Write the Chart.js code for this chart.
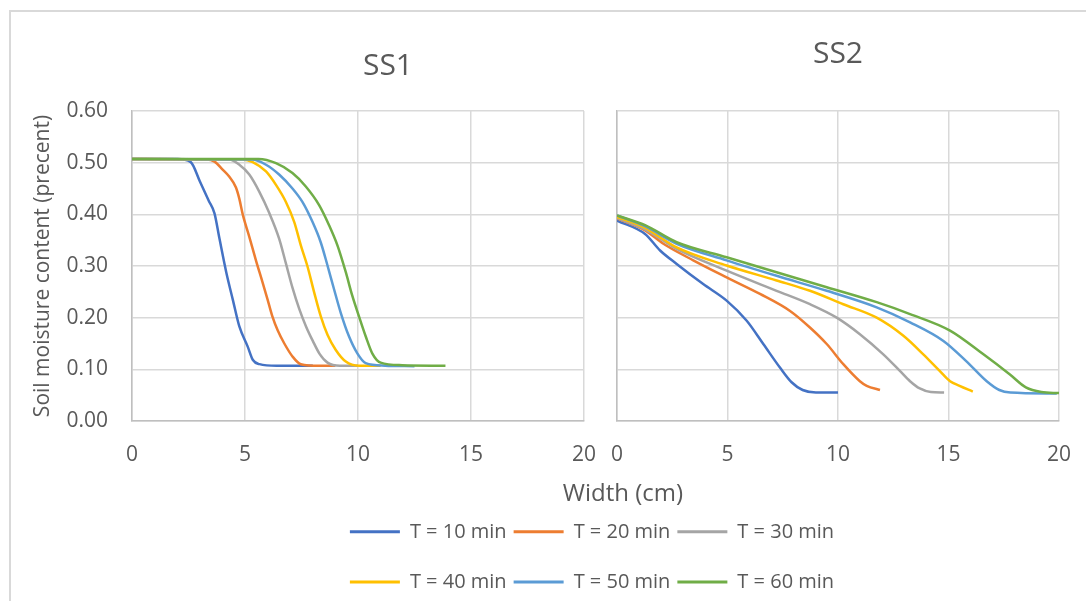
<!DOCTYPE html>
<html>
<head>
<meta charset="utf-8">
<script src="https://cdn.jsdelivr.net/npm/chart.js@4.4.0/dist/chart.umd.min.js"></script>
<style>
  html, body { margin: 0; padding: 0; background: #fff; }
  #page { position: relative; width: 1086px; height: 601px; overflow: hidden; background: #fff; }
  #frame { position: absolute; left: 9px; top: 10px; right: -4px; bottom: -4px;
           border-left: 2px solid #d9d9d9; border-top: 2px solid #d9d9d9; }
  canvas { position: absolute; }
  #ss1 { left: 0; top: 0; }
  #ss2 { left: 600px; top: 0; }
  #legendTop { left: 312px; top: 470px; }
  #legendBottom { left: 312px; top: 565px; }
</style>
</head>
<body>
<div id="page">
  <div id="frame"></div>
  <canvas id="ss1" width="776" height="480"></canvas>
  <canvas id="ss2" width="486" height="480"></canvas>
  <canvas id="legendTop" width="560" height="95"></canvas>
  <canvas id="legendBottom" width="560" height="90"></canvas>
</div>
<script>
// series names and colours
const seriesNames = ['T = 10 min', 'T = 20 min', 'T = 30 min', 'T = 40 min', 'T = 50 min', 'T = 60 min'];
const seriesColors = ['#4472C4', '#ED7D31', '#A5A5A5', '#FFC000', '#5B9BD5', '#70AD47'];
const xTicks = [0, 5, 10, 15, 20];
const yTicks = [0, 0.1, 0.2, 0.3, 0.4, 0.5, 0.6];

// SS1 : [width (cm), moisture]
const ss1T10 = [[0,0.507],[2.0,0.507],[2.6,0.501],[3.0,0.464],[3.4,0.426],[3.65,0.402],[3.87,0.353],[4.17,0.288],[4.46,0.235],[4.75,0.183],[5.12,0.144],[5.35,0.118],[5.64,0.110],[6.4,0.107],[8.0,0.107]];
const ss1T20 = [[0,0.507],[3.3,0.506],[3.65,0.502],[4.0,0.487],[4.3,0.473],[4.6,0.452],[4.75,0.430],[4.9,0.400],[5.2,0.355],[5.49,0.310],[5.78,0.268],[6.0,0.235],[6.2,0.204],[6.45,0.175],[6.74,0.150],[7.1,0.125],[7.47,0.110],[8.3,0.107],[9.0,0.107]];
const ss1T30 = [[0,0.507],[4.3,0.506],[4.75,0.496],[5.19,0.477],[5.63,0.444],[6.07,0.403],[6.51,0.353],[6.81,0.305],[7.1,0.258],[7.4,0.217],[7.7,0.183],[8.0,0.155],[8.3,0.130],[8.65,0.113],[9.2,0.107],[10.0,0.107]];
const ss1T40 = [[0,0.507],[4.9,0.506],[5.34,0.501],[5.93,0.483],[6.37,0.457],[6.81,0.424],[7.18,0.385],[7.47,0.340],[7.76,0.300],[8.06,0.249],[8.35,0.203],[8.65,0.167],[9.01,0.138],[9.46,0.115],[10.04,0.107],[11.0,0.107]];
const ss1T50 = [[0,0.507],[5.3,0.506],[5.93,0.496],[6.51,0.477],[7.1,0.450],[7.54,0.424],[7.99,0.385],[8.35,0.346],[8.65,0.301],[8.94,0.255],[9.24,0.209],[9.6,0.164],[9.97,0.131],[10.34,0.112],[11.2,0.107],[12.5,0.106]];
const ss1T60 = [[0,0.507],[5.6,0.507],[6.37,0.499],[7.1,0.480],[7.69,0.454],[8.28,0.418],[8.72,0.379],[9.09,0.340],[9.46,0.288],[9.75,0.242],[10.04,0.203],[10.34,0.164],[10.63,0.131],[11.0,0.113],[11.96,0.108],[13.87,0.107]];

// SS2
const ss2T10 = [[0,0.388],[1.27,0.362],[1.95,0.330],[2.7,0.304],[3.9,0.265],[4.96,0.233],[5.87,0.194],[6.62,0.149],[7.38,0.103],[7.9,0.075],[8.4,0.060],[9.0,0.055],[10.0,0.055]];
const ss2T20 = [[0,0.392],[1.27,0.369],[2.1,0.343],[3.45,0.311],[4.96,0.278],[6.47,0.246],[7.83,0.213],[8.73,0.181],[9.49,0.149],[10.24,0.110],[10.99,0.077],[11.3,0.068],[11.9,0.060]];
const ss2T30 = [[0,0.393],[1.27,0.371],[2.7,0.333],[4.96,0.291],[7.22,0.252],[8.73,0.226],[9.94,0.200],[10.99,0.168],[12.05,0.129],[12.8,0.097],[13.26,0.077],[13.7,0.063],[14.2,0.056],[14.8,0.055]];
const ss2T40 = [[0,0.395],[1.27,0.374],[2.7,0.336],[4.96,0.301],[7.22,0.272],[8.73,0.252],[10.24,0.226],[11.75,0.200],[12.96,0.165],[13.86,0.129],[14.6,0.097],[15.07,0.077],[15.5,0.068],[16.1,0.057]];
const ss2T50 = [[0,0.398],[1.27,0.377],[2.7,0.343],[4.96,0.311],[7.22,0.281],[9.49,0.252],[11.75,0.220],[13.26,0.191],[14.77,0.155],[15.8,0.116],[16.73,0.077],[17.3,0.060],[17.8,0.055],[19.9,0.053]];
const ss2T60 = [[0,0.398],[1.27,0.379],[2.7,0.346],[4.96,0.317],[7.22,0.288],[9.49,0.259],[11.75,0.230],[13.26,0.207],[15.07,0.175],[16.58,0.129],[17.78,0.090],[18.5,0.065],[19.2,0.056],[20.0,0.054]];

Chart.defaults.font.family = "'Open Sans', sans-serif";
Chart.defaults.color = '#595959';

const gridStyle = { color: '#d9d9d9', lineWidth: 1.5, drawTicks: false };
const borderStyle = { color: '#bfbfbf', width: 1.5 };

function makeDatasets(list) {
  return list.map((pairs, i) => ({
    label: seriesNames[i],
    data: pairs.map(p => ({ x: p[0], y: p[1] })),
    borderColor: seriesColors[i],
    backgroundColor: seriesColors[i],
    borderWidth: 2.5,
    pointRadius: 0,
    fill: false,
    cubicInterpolationMode: 'monotone',
    order: list.length - 1 - i   // later series on top, like Excel
  }));
}

function xScale() {
  return {
    type: 'linear', min: xTicks[0], max: xTicks[xTicks.length - 1],
    afterBuildTicks: s => { s.ticks = xTicks.map(v => ({ value: v })); },
    ticks: { font: { size: 21 }, padding: 0 },
    // invisible tick marks push the labels down without widening the side padding
    grid: { color: '#d9d9d9', lineWidth: 1.5, drawTicks: true, tickLength: 21, tickColor: 'rgba(0,0,0,0)' },
    border: borderStyle,
    afterFit: s => { s.height = 59; }
  };
}

// left chart, SS1
new Chart(document.getElementById('ss1'), {
  type: 'line',
  data: { datasets: makeDatasets([ss1T10, ss1T20, ss1T30, ss1T40, ss1T50, ss1T60]) },
  options: {
    responsive: false, animation: false, devicePixelRatio: 1,
    plugins: {
      legend: { display: false }, tooltip: { enabled: false },
      title: { display: true, text: 'SS1', font: { size: 30, weight: 'normal' }, padding: { top: 48, bottom: 27 } }
    },
    scales: {
      x: xScale(),
      y: {
        type: 'linear', min: 0, max: 0.6,
        afterBuildTicks: s => { s.ticks = yTicks.map(v => ({ value: v })); },
        ticks: { font: { size: 21 }, padding: 24, callback: v => v.toFixed(2) },
        grid: gridStyle, border: borderStyle,
        title: { display: true, text: 'Soil moisture content (precent)', font: { size: 21 }, padding: { top: 30, bottom: 0 } },
        afterFit: s => { s.width = 132; }
      },
      spacer: {
        type: 'linear', position: 'right', display: true,
        ticks: { display: false }, grid: { display: false }, border: { display: false },
        afterFit: s => { s.width = 192; }
      }
    }
  }
});

// right chart, SS2
new Chart(document.getElementById('ss2'), {
  type: 'line',
  data: { datasets: makeDatasets([ss2T10, ss2T20, ss2T30, ss2T40, ss2T50, ss2T60]) },
  options: {
    responsive: false, animation: false, devicePixelRatio: 1,
    layout: { padding: { right: 27 } },
    plugins: {
      legend: { display: false }, tooltip: { enabled: false },
      title: { display: true, fullSize: false, text: 'SS2', font: { size: 30, weight: 'normal' }, padding: { top: 36, bottom: 39 } }
    },
    scales: {
      x: xScale(),
      y: {
        type: 'linear', min: 0, max: 0.6,
        afterBuildTicks: s => { s.ticks = yTicks.map(v => ({ value: v })); },
        ticks: { display: false },
        grid: gridStyle, border: borderStyle,
        afterFit: s => { s.width = 17; }
      }
    }
  }
});

// legend rows (two rows of three) + shared x axis title
function legendSets(from, to) {
  return seriesNames.slice(from, to).map((name, k) => ({
    label: name, data: [],
    backgroundColor: seriesColors[from + k], borderColor: seriesColors[from + k], borderWidth: 0
  }));
}
const legendLabels = { boxWidth: 50, boxHeight: 3, padding: 7, font: { size: 20 } };

new Chart(document.getElementById('legendTop'), {
  type: 'line',
  data: { datasets: legendSets(0, 3) },
  options: {
    responsive: false, animation: false, devicePixelRatio: 1,
    events: [],
    plugins: {
      tooltip: { enabled: false },
      title: { display: true, fullSize: false, text: 'Width (cm)', font: { size: 24, weight: 'normal' }, padding: { top: 10, bottom: 6 } },
      legend: { display: true, position: 'top', labels: legendLabels }
    },
    scales: {
      x: { display: false },
      y: {
        display: true, ticks: { display: false }, grid: { display: false }, border: { display: false },
        afterFit: s => { s.width = 62; }
      }
    }
  }
});

new Chart(document.getElementById('legendBottom'), {
  type: 'line',
  data: { datasets: legendSets(3, 6) },
  options: {
    responsive: false, animation: false, devicePixelRatio: 1,
    events: [],
    plugins: {
      tooltip: { enabled: false },
      legend: { display: true, position: 'top', labels: legendLabels }
    },
    scales: { x: { display: false }, y: { display: false } }
  }
});
</script>
</body>
</html>
